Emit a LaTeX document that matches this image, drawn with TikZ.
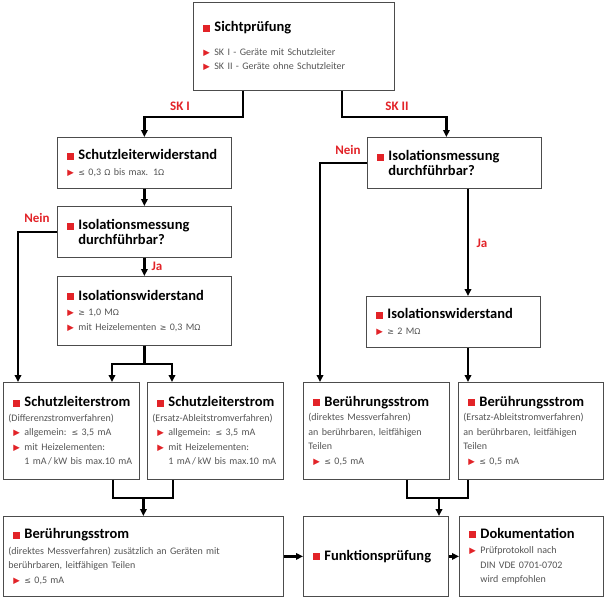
\documentclass[tikz,border=0pt]{standalone}
\usepackage{fontspec}
\setmainfont{Carlito}
\newfontfamily\symfont{DejaVu Sans}
\usetikzlibrary{arrows.meta}

\definecolor{mred}{RGB}{226,35,40}
\definecolor{txtgray}{RGB}{85,85,85}

\newcommand\titlef{\fontsize{14.5}{15}\bfseries}
\newcommand\mk[1]{\makebox[16pt][l]{\hspace{5pt}#1}}
\newcommand\hd[1]{\mk{\textcolor{mred}{\rule{7pt}{7pt}}}{\color{black}\titlef #1}}
\newcommand\hdc[1]{\mk{}{\color{black}\titlef #1}}
\newcommand\itm[1]{\mk{\textcolor{mred}{\fontsize{8.5}{8}\symfont ▶}}#1}
\newcommand\cnt[1]{\mk{}#1}
\newcommand\kl{{\symfont\fontsize{8}{8}\selectfont ≤}}
\newcommand\gr{{\symfont\fontsize{8}{8}\selectfont ≥}}
\newcommand\ohm{{\symfont\fontsize{8}{8}\selectfont Ω}}

\tikzset{
  box/.style={draw=black!70, line width=0.8pt, fill=white, anchor=north west,
    inner xsep=5pt, inner ysep=0pt, align=left, text=txtgray,
    font=\fontsize{10}{14.5}\selectfont},
  line/.style={line width=2.6pt, line join=miter},
  conn/.style={line, -{Triangle[length=7pt,width=6.5pt]}},
  lbl/.style={text=mred, font=\fontsize{13}{14}\selectfont\bfseries}
}

\begin{document}
\begin{tikzpicture}[x=1pt,y=-1pt]
\useasboundingbox (0,0) rectangle (606,600);

% boxes
\node[box, text width=191pt, minimum height=88pt] (sicht) at (193,2)
  {\hd{Sichtprüfung}\\[9pt]
   \itm{SK I - Geräte mit Schutzleiter}\\
   \itm{SK II - Geräte ohne Schutzleiter}};
\node[box, text width=164pt, minimum height=51pt] (slw) at (57,137)
  {\hd{Schutzleiterwiderstand}\\[1pt]
   \itm{\kl\ 0,3 \ohm\ bis max. 1\ohm}};
\node[box, text width=164pt, minimum height=51pt] (isoL) at (57,206)
  {\hd{Isolationsmessung}\\
   \hdc{durchführbar?}};
\node[box, text width=164pt, minimum height=69pt] (iwL) at (57,276)
  {\hd{Isolationswiderstand}\\[1pt]
   \itm{\gr\ 1,0 M\ohm}\\
   \itm{mit Heizelementen \gr\ 0,3 M\ohm}};
\node[box, text width=164pt, minimum height=51pt] (isoR) at (367,137)
  {\hd{Isolationsmessung}\\
   \hdc{durchführbar?}};
\node[box, text width=164pt, minimum height=51pt] (iwR) at (366,296)
  {\hd{Isolationswiderstand}\\[1pt]
   \itm{\gr\ 2 M\ohm}};
\node[box, text width=126pt, minimum height=97pt] (sls1) at (3,382)
  {\hd{Schutzleiterstrom}\\
   \mbox{(Differenzstromverfahren)}\\
   \itm{allgemein: \kl\ 3,5 mA}\\
   \itm{mit Heizelementen:}\\
   \cnt{\mbox{1 mA\,/\,kW bis max.10 mA}}};
\node[box, text width=126pt, minimum height=97pt] (sls2) at (147,382)
  {\hd{Schutzleiterstrom}\\
   \mbox{(Ersatz-Ableitstromverfahren)}\\
   \itm{allgemein: \kl\ 3,5 mA}\\
   \itm{mit Heizelementen:}\\
   \cnt{\mbox{1 mA\,/\,kW bis max.10 mA}}};
\node[box, text width=136pt, minimum height=97pt] (bsD) at (303,382)
  {\hd{Berührungsstrom}\\
   (direktes Messverfahren)\\
   an berührbaren, leitfähigen\\
   Teilen\\
   \itm{\kl\ 0,5 mA}};
\node[box, text width=135pt, minimum height=97pt] (bsE) at (458,382)
  {\hd{Berührungsstrom}\\
   \mbox{(Ersatz-Ableitstromverfahren)}\\
   an berührbaren, leitfähigen\\
   Teilen\\
   \itm{\kl\ 0,5 mA}};
\node[box, text width=270pt, minimum height=80pt] (bsB) at (3,516)
  {\hd{Berührungsstrom}\\[1pt]
   (direktes Messverfahren) zusätzlich an Geräten mit\\
   berührbaren, leitfähigen Teilen\\
   \itm{\kl\ 0,5 mA}};
\node[box, text width=135pt, minimum height=80pt] (funk) at (303,516)
  {\hd{Funktionsprüfung}};
\node[box, text width=134pt, minimum height=80pt] (doku) at (459,516)
  {\hd{Dokumentation}\\[1pt]
   \itm{Prüfprotokoll nach}\\
   \cnt{DIN VDE 0701-0702}\\
   \cnt{wird empfohlen}};

% bend points
\coordinate (skI) at (243,117);
\coordinate (skII) at (342,117);
\coordinate (neinL) at (18,231);
\coordinate (neinR) at (320,162);
\coordinate (jaR) at (468,0);
\coordinate (jL1) at (112,364);
\coordinate (jL2) at (172,364);
\coordinate (mL1) at (113,498);
\coordinate (mL2) at (173,498);
\coordinate (mR1) at (407,498);
\coordinate (mR2) at (468,498);
\coordinate (mR) at (439,498);

% connectors
\draw[conn] (sicht.south -| skI) -- (skI) -| (slw.north);
\draw[conn] (sicht.south -| skII) -- (skII) -| ([xshift=-8pt]isoR.north);
\draw[conn] (slw.south) -- (isoL.north);
\draw[conn] (isoL.west) -| (neinL |- sls1.north);
\draw[conn] (isoL.south) -- (iwL.north);
\draw[conn] (iwL.south) |- (jL1) -- (jL1 |- sls1.north);
\draw[conn] (iwL.south) |- (jL2) -- (jL2 |- sls2.north);
\draw[conn] (isoR.west) -| (neinR |- bsD.north);
\draw[conn] (isoR.south -| jaR) -- (iwR.north -| jaR);
\draw[conn] (iwR.south -| jaR) -- (bsE.north -| jaR);
\draw[line] (mL1 |- sls1.south) -- (mL1) -- (mL2) -- (mL2 |- sls2.south);
\draw[conn] (bsB.north |- mL1) -- (bsB.north);
\draw[line] (mR1 |- bsD.south) -- (mR1) -- (mR2) -- (mR2 |- bsE.south);
\draw[conn] (mR) -- (mR |- funk.north);
\draw[conn] (bsB.east) -- (funk.west);
\draw[conn] (funk.east) -- (doku.west);

% labels
\node[lbl] (lskI) at (180,106) {SK I};
\node[lbl] (lskII) at (397,106) {SK II};
\node[lbl] (lneinL) at (37,218) {Nein};
\node[lbl] (ljaL) at (157,266) {Ja};
\node[lbl] (lneinR) at (348,150) {Nein};
\node[lbl] (ljaR) at (482,243) {Ja};
\end{tikzpicture}
\end{document}
